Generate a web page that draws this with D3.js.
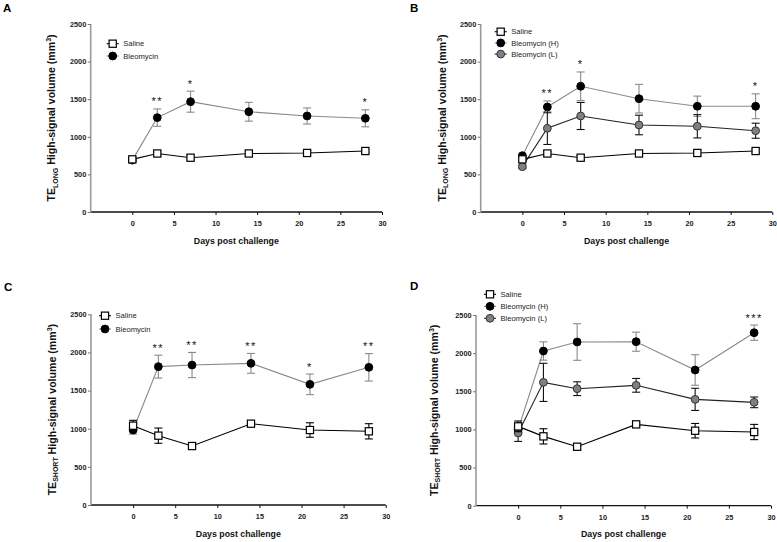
<!DOCTYPE html>
<html><head><meta charset="utf-8">
<script src="https://cdn.jsdelivr.net/npm/d3@7"></script>
<style>
body{margin:0;background:#fff}
svg{display:block}
text{font-family:"Liberation Sans",Arial,Helvetica,sans-serif}
</style>
</head><body>
<svg id="chart" width="777" height="542"></svg>
<script>
// ---------- data ----------
const days = [0, 3, 7, 14, 21, 28];
const xTickValues = [0, 5, 10, 15, 20, 25, 30];
const yTickValues = [0, 500, 1000, 1500, 2000, 2500];

const salineLong     = [700, 778, 722, 778, 785, 811];
const salineLongErr  = [30, 25, 30, 35, 35, 25];
const bleoLongA      = [690, 1255, 1467, 1333, 1277, 1246];
const bleoLongAErr   = [30, 115, 140, 125, 107, 113];
const bleoLongH      = [749, 1397, 1672, 1507, 1406, 1406];
const bleoLongHErr   = [25, 80, 190, 190, 135, 165];
const bleoLongL      = [603, 1113, 1277, 1157, 1140, 1081];
const bleoLongLErr   = [20, 215, 180, 130, 155, 100];

const salineShort    = [1040, 909, 773, 1066, 983, 966];
const salineShortErr = [70, 100, 40, 20, 95, 100];
const bleoShortC     = [983, 1814, 1835, 1857, 1582, 1805];
const bleoShortCErr  = [55, 150, 165, 130, 135, 180];
const bleoShortH     = [1000, 2028, 2146, 2150, 1779, 2268];
const bleoShortHErr  = [60, 120, 240, 125, 200, 100];
const bleoShortL     = [953, 1617, 1534, 1578, 1394, 1355];
const bleoShortLErr  = [110, 250, 90, 90, 145, 70];

// significance markers: index into days, label
const starsA = [[1, "**"], [2, "*"], [5, "*"]];
const starsB = [[1, "**"], [2, "*"], [5, "*"]];
const starsC = [[1, "**"], [2, "**"], [3, "**"], [4, "*"], [5, "**"]];
const starsD = [[5, "***"]];

// ---------- styles ----------
const styles = {
  S: {shape: "square", fill: "#fff", stroke: "#000", line: "#000", err: "#000"},
  H: {shape: "circle", fill: "#000", stroke: "#000", line: "#8a8a8a", err: "#8a8a8a"},
  L: {shape: "circle", fill: "#808080", stroke: "#333", line: "#222", err: "#111"}
};

const panels = [
  {letter: "A", lx: 3, ly: 12, box: {l: 90.7, r: 382, t: 24, b: 212}, sub: "LONG", titleX: 51,
   legend: {x: 112.7, y: 43.7, dy: 12.3},
   series: [{key: "H", name: "Bleomycin", v: bleoLongA, e: bleoLongAErr},
            {key: "S", name: "Saline", v: salineLong, e: salineLongErr}],
   legendOrder: ["Saline", "Bleomycin"], stars: starsA, starRef: 0},
  {letter: "B", lx: 410, ly: 12, box: {l: 480.7, r: 772.3, t: 24, b: 212}, sub: "LONG", titleX: 441.5,
   legend: {x: 500.7, y: 31.7, dy: 11.2},
   series: [{key: "H", name: "Bleomycin (H)", v: bleoLongH, e: bleoLongHErr},
            {key: "L", name: "Bleomycin (L)", v: bleoLongL, e: bleoLongLErr},
            {key: "S", name: "Saline", v: salineLong, e: salineLongErr}],
   legendOrder: ["Saline", "Bleomycin (H)", "Bleomycin (L)"], stars: starsB, starRef: 0},
  {letter: "C", lx: 4, ly: 291, box: {l: 91, r: 385.7, t: 314.3, b: 505}, sub: "SHORT", titleX: 51.5,
   legend: {x: 105, y: 315.7, dy: 13.3},
   series: [{key: "H", name: "Bleomycin", v: bleoShortC, e: bleoShortCErr},
            {key: "S", name: "Saline", v: salineShort, e: salineShortErr}],
   legendOrder: ["Saline", "Bleomycin"], stars: starsC, starRef: 0},
  {letter: "D", lx: 410, ly: 290, box: {l: 476, r: 771, t: 315, b: 505.7}, sub: "SHORT", titleX: 433.5,
   legend: {x: 490, y: 294.3, dy: 12},
   series: [{key: "H", name: "Bleomycin (H)", v: bleoShortH, e: bleoShortHErr},
            {key: "L", name: "Bleomycin (L)", v: bleoShortL, e: bleoShortLErr},
            {key: "S", name: "Saline", v: salineShort, e: salineShortErr}],
   legendOrder: ["Saline", "Bleomycin (H)", "Bleomycin (L)"], stars: starsD, starRef: 0}
];

const svg = d3.select("#chart");

function drawMarker(g, st, cx, cy) {
  if (st.shape === "square") {
    g.append("rect").attr("x", cx - 3.6).attr("y", cy - 3.6).attr("width", 7.2).attr("height", 7.2)
      .attr("fill", st.fill).attr("stroke", st.stroke).attr("stroke-width", 1.2);
  } else {
    g.append("circle").attr("cx", cx).attr("cy", cy).attr("r", 3.9)
      .attr("fill", st.fill).attr("stroke", st.stroke).attr("stroke-width", 1);
  }
}

panels.forEach(p => {
  const g = svg.append("g");
  const x = d3.scaleLinear().domain([-5, 30]).range([p.box.l, p.box.r]);
  const y = d3.scaleLinear().domain([0, 2500]).range([p.box.b, p.box.t]);

  // panel letter
  g.append("text").attr("x", p.lx).attr("y", p.ly).attr("font-size", 11.5).attr("font-weight", "bold").text(p.letter);

  // x axis
  const xa = g.append("g").attr("transform", `translate(0,${p.box.b})`)
    .call(d3.axisBottom(x).tickValues(xTickValues).tickSize(3).tickPadding(6).tickFormat(d3.format("d")));
  xa.select(".domain").attr("stroke", "#111").attr("stroke-width", 1.3)
    .attr("d", `M${p.box.l},0H${p.box.r}`);
  xa.selectAll(".tick line").attr("stroke", "#111").attr("stroke-width", 1);
  xa.selectAll(".tick text").attr("font-size", 7.3).attr("font-weight", "bold").attr("fill", "#222")
    .attr("font-family", "Liberation Sans, Arial, sans-serif");

  // y axis
  const ya = g.append("g").attr("transform", `translate(${p.box.l},0)`)
    .call(d3.axisLeft(y).tickValues(yTickValues).tickSize(3).tickPadding(1.5).tickFormat(d3.format("d")));
  ya.select(".domain").attr("stroke", "#9a9a9a").attr("stroke-width", 1.6)
    .attr("d", `M0,${p.box.b}V${p.box.t}`);
  ya.selectAll(".tick line").attr("stroke", "#777").attr("stroke-width", 1);
  ya.selectAll(".tick text").attr("font-size", 7.3).attr("font-weight", "bold").attr("fill", "#222")
    .attr("font-family", "Liberation Sans, Arial, sans-serif");

  // x title
  g.append("text").attr("x", (p.box.l + p.box.r) / 2).attr("y", p.box.b + 31.5)
    .attr("text-anchor", "middle").attr("font-size", 8.8).attr("font-weight", "bold").attr("fill", "#111")
    .text("Days post challenge");

  // y title
  const cy = (p.box.t + p.box.b) / 2;
  const yt = g.append("text").attr("transform", `translate(${p.titleX + 4},${cy}) rotate(-90)`)
    .attr("text-anchor", "middle").attr("font-size", 10.6).attr("font-weight", "bold").attr("fill", "#111");
  yt.append("tspan").text("TE");
  yt.append("tspan").attr("font-size", 7).attr("dy", 2.5).text(p.sub);
  yt.append("tspan").attr("dy", -2.5).text(" High-signal volume (mm");
  yt.append("tspan").attr("font-size", 7).attr("dy", -4).text("3");
  yt.append("tspan").attr("dy", 4).text(")");

  // series
  p.series.forEach(s => {
    const st = styles[s.key];
    const sg = g.append("g");
    // error bars
    days.forEach((d, i) => {
      const cx = x(d), top = y(s.v[i] + s.e[i]), bot = y(s.v[i] - s.e[i]);
      sg.append("line").attr("x1", cx).attr("x2", cx).attr("y1", top).attr("y2", bot)
        .attr("stroke", st.err).attr("stroke-width", 1.1);
      [top, bot].forEach(yy => sg.append("line").attr("x1", cx - 4).attr("x2", cx + 4).attr("y1", yy).attr("y2", yy)
        .attr("stroke", st.err).attr("stroke-width", 1.1));
    });
    // line
    const line = d3.line().x((d, i) => x(d)).y((d, i) => y(s.v[i]));
    sg.append("path").attr("d", line(days)).attr("fill", "none").attr("stroke", st.line).attr("stroke-width", 1.1);
    // markers
    days.forEach((d, i) => drawMarker(sg, st, x(d), y(s.v[i])));
  });

  // stars
  const ref = p.series[p.starRef];
  p.stars.forEach(([i, lab]) => {
    const top = y(ref.v[i] + ref.e[i]);
    g.append("text").attr("x", x(days[i])).attr("y", top - 3.5)
      .attr("text-anchor", "middle").attr("font-size", 11).attr("letter-spacing", 1.5)
      .attr("fill", "#111").text(lab);
  });

  // legend
  p.legendOrder.forEach((name, k) => {
    const s = p.series.find(ss => ss.name === name);
    const st = styles[s.key];
    const lx = p.legend.x, ly = p.legend.y + k * p.legend.dy;
    g.append("line").attr("x1", lx - 6).attr("x2", lx + 6).attr("y1", ly).attr("y2", ly)
      .attr("stroke", st.line).attr("stroke-width", 1.1);
    drawMarker(g, st, lx, ly);
    g.append("text").attr("x", lx + 10.5).attr("y", ly + 2.7).attr("font-size", 7.6).attr("fill", "#222").text(name);
  });
});
</script>
</body></html>
